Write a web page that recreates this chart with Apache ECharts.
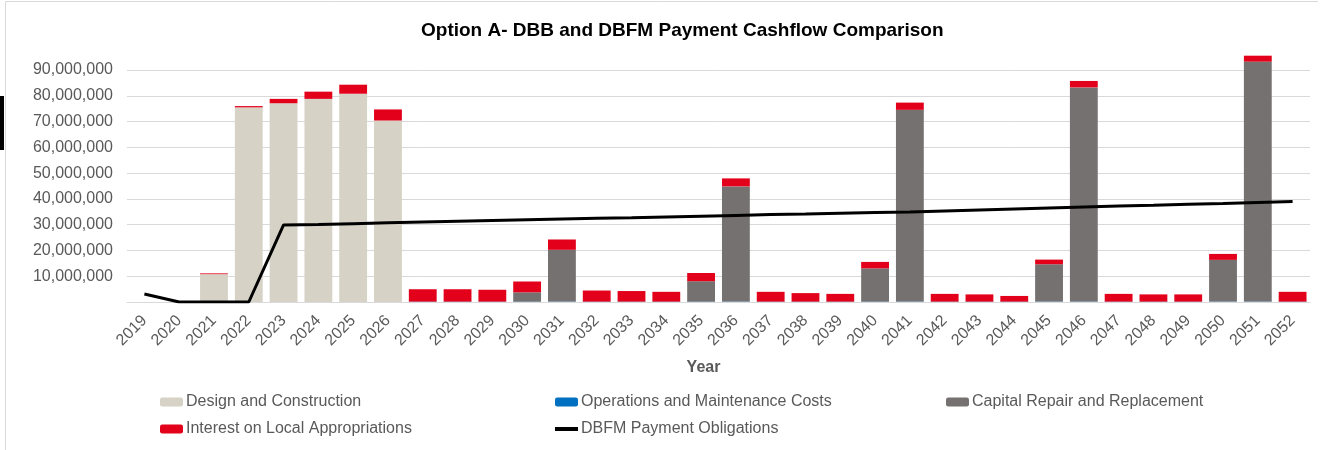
<!DOCTYPE html>
<html>
<head>
<meta charset="utf-8">
<script src="https://cdn.jsdelivr.net/npm/echarts@6/dist/echarts.min.js"></script>
<style>
html,body{margin:0;padding:0;background:#fff;}
#chart{width:1325px;height:450px;}
</style>
</head>
<body>
<div id="chart"></div>
<script>
const years = ['2019','2020','2021','2022','2023','2024','2025','2026','2027','2028','2029','2030','2031','2032','2033','2034','2035','2036','2037','2038','2039','2040','2041','2042','2043','2044','2045','2046','2047','2048','2049','2050','2051','2052'];

const designConstruction = [0,0,10800000,75500000,77100000,78800000,80800000,70400000,0,0,0,0,0,0,0,0,0,0,0,0,0,0,0,0,0,0,0,0,0,0,0,0,0,0];

const operationsMaintenance = [0,0,0,0,0,0,0,0,150000,150000,150000,150000,150000,150000,150000,150000,150000,150000,150000,150000,150000,150000,150000,150000,150000,150000,150000,150000,150000,150000,150000,150000,150000,150000];

const capitalRepair = [0,0,0,0,0,0,0,0,0,0,0,3600000,20100000,0,0,0,7900000,44700000,0,0,0,12900000,74400000,0,0,0,14500000,83100000,0,0,0,16200000,93100000,0];

const interestLocal = [0,0,300000,500000,1700000,2800000,3500000,4300000,4800000,4800000,4600000,4200000,4000000,4300000,4100000,3800000,3200000,3100000,3800000,3300000,3000000,2500000,2800000,3000000,2800000,2200000,1800000,2500000,3000000,2800000,2800000,2300000,2300000,3800000];

const dbfmPayments = [3100000,0,0,0,29900000,30100000,30400000,30700000,31000000,31300000,31600000,31900000,32200000,32500000,32700000,33000000,33300000,33600000,33900000,34100000,34400000,34700000,34900000,35300000,35700000,36100000,36500000,36900000,37200000,37500000,37900000,38200000,38600000,39000000];

const yTicks = {min: 0, max: 90000000, interval: 10000000};

const chart = echarts.init(document.getElementById('chart'), null, {renderer: 'canvas'});
const FONT = 'Liberation Sans, Arial, sans-serif';
const GREY_TEXT = '#595959';

const barCommon = {type: 'bar', stack: 'total', barWidth: '80%', clip: false};
const legendCommon = {
  top: 394, orient: 'vertical', itemGap: 11, itemWidth: 23, itemHeight: 9, padding: 0,
  textStyle: {fontSize: 16, color: GREY_TEXT, fontFamily: FONT, padding: [0,0,0,-2]}
};

chart.setOption({
  animation: false,
  backgroundColor: '#ffffff',
  textStyle: {fontFamily: FONT},
  title: {
    text: 'Option A- DBB and DBFM Payment Cashflow Comparison',
    left: 421,
    top: 21,
    padding: 0,
    textStyle: {fontSize: 19, fontWeight: 'bold', color: '#000000', fontFamily: FONT}
  },
  grid: {left: 127, right: 15, top: 70, bottom: 148, containLabel: false},
  legend: [
    Object.assign({}, legendCommon, {left: 160, data: ['Design and Construction', 'Interest on Local Appropriations']}),
    Object.assign({}, legendCommon, {left: 553, data: ['Operations and Maintenance Costs', {name: 'DBFM Payment Obligations', itemStyle: {opacity: 0}, lineStyle: {width: 4, color: '#000000'}}]}),
    Object.assign({}, legendCommon, {left: 946, data: ['Capital Repair and Replacement']})
  ],
  xAxis: {
    type: 'category',
    data: years,
    name: 'Year',
    nameLocation: 'middle',
    nameGap: 58,
    nameTextStyle: {fontSize: 16, fontWeight: 'bold', color: GREY_TEXT, fontFamily: FONT, padding: [0, 30, 0, 0]},
    axisLine: {lineStyle: {color: '#D9D9D9', width: 1}},
    axisTick: {show: false},
    axisLabel: {rotate: 45, fontSize: 16, color: GREY_TEXT, margin: 16, fontFamily: FONT, interval: 0}
  },
  yAxis: {
    type: 'value',
    min: yTicks.min,
    max: yTicks.max,
    interval: yTicks.interval,
    axisLine: {show: false},
    axisTick: {show: false},
    splitLine: {lineStyle: {color: '#D9D9D9', width: 1}},
    axisLabel: {
      showMinLabel: false,
      fontSize: 16,
      color: GREY_TEXT,
      margin: 14,
      fontFamily: FONT,
      formatter: v => v.toLocaleString('en-US')
    }
  },
  series: [
    Object.assign({}, barCommon, {name: 'Design and Construction', data: designConstruction, itemStyle: {color: '#D7D2C6'}}),
    Object.assign({}, barCommon, {name: 'Operations and Maintenance Costs', data: operationsMaintenance, itemStyle: {color: '#0070C0'}}),
    Object.assign({}, barCommon, {name: 'Capital Repair and Replacement', data: capitalRepair, itemStyle: {color: '#767171'}}),
    Object.assign({}, barCommon, {name: 'Interest on Local Appropriations', data: interestLocal, itemStyle: {color: '#E3001B'}}),
    {
      type: 'line', name: 'DBFM Payment Obligations', data: dbfmPayments,
      symbol: 'none', lineStyle: {color: '#000000', width: 3}, itemStyle: {color: '#000000'}, z: 5
    }
  ],
  graphic: [
    {type: 'polyline', shape: {points: [[5.5, 452], [5.5, 1.5], [1318, 1.5]]}, style: {stroke: '#D9D9D9', lineWidth: 1, fill: null}, silent: true},
    {type: 'rect', shape: {x: 0, y: 96, width: 4, height: 54}, style: {fill: '#000000'}, silent: true}
  ]
});
</script>
</body>
</html>
